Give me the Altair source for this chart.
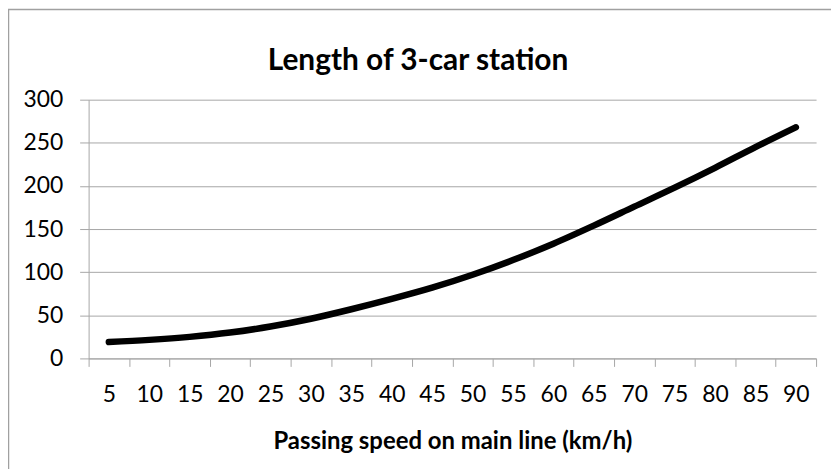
import altair as alt
import pandas as pd

speeds = ["5", "10", "15", "20", "25", "30", "35", "40", "45", "50",
          "55", "60", "65", "70", "75", "80", "85", "90"]
lengths = [19, 21.5, 25, 30, 37, 46, 57, 69, 82, 97,
           114, 133, 154, 176, 198, 221, 245, 268]
y_ticks = [0, 50, 100, 150, 200, 250, 300]
title_text = "Length of 3-car station"

df = pd.DataFrame({"speed": speeds, "length": lengths})

FONT = "Lato"
GRID = "#a6a6a6"

x_enc = alt.X(
    "speed:N", sort=speeds, bandPosition=0.5,
    scale=alt.Scale(type="band", paddingInner=0, paddingOuter=0),
    axis=alt.Axis(
        title="Passing speed on main line (km/h)", labelAngle=0,
        tickBand="extent", tickSize=8, tickColor=GRID, domainColor=GRID,
        labelFont=FONT, labelFontSize=23, labelColor="#000000", labelPadding=17,
        titleFont=FONT, titleFontSize=24, titleFontWeight="bold",
        titleColor="#000000", titlePadding=24,
    ),
)
y_enc = alt.Y(
    "length:Q", scale=alt.Scale(domain=[0, 300], nice=False, zero=True),
    axis=alt.Axis(
        values=y_ticks, title=None, tickSize=9, tickColor=GRID,
        domainColor=GRID, gridColor=GRID, grid=True,
        labelFont=FONT, labelFontSize=23, labelColor="#000000", labelPadding=17,
    ),
)

line = alt.Chart(df).mark_line(
    color="#000000", strokeWidth=6.5, strokeCap="round", interpolate="monotone"
).encode(x=x_enc, y=y_enc)

one = pd.DataFrame({"a": [0]})
left_border = alt.Chart(one).mark_rule(color="#a0a0a0", strokeWidth=1.5).encode(
    x=alt.value(-80.5), y=alt.value(-91), y2=alt.value(420)
)
top_border = alt.Chart(one).mark_rule(color="#a0a0a0", strokeWidth=1.5).encode(
    x=alt.value(-81), x2=alt.value(760), y=alt.value(-90.5)
)
title = alt.Chart(one).mark_text(
    font=FONT, fontSize=30, fontWeight="bold", color="#000000",
    align="center", baseline="alphabetic"
).encode(x=alt.value(331), y=alt.value(-30), text=alt.value(title_text))

chart = alt.layer(line, left_border, top_border, title).properties(
    width=731, height=260,
    autosize=alt.AutoSizeParams(type="none"),
    padding={"left": 81, "top": 91, "right": 15, "bottom": 110},
    background="#ffffff",
).configure_view(stroke=None)

chart.save("out.html", embed_options={"renderer": "svg", "actions": False})
